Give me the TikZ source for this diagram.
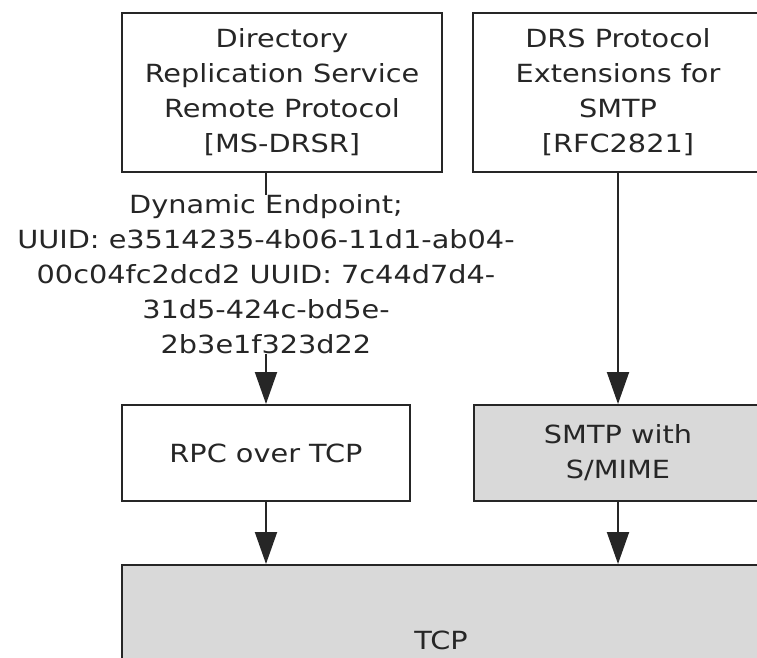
\documentclass[tikz,border=0pt]{standalone}
\usepackage{fontspec}
\setmainfont{DejaVu Sans}[FakeStretch=1.15]
\usetikzlibrary{arrows.meta}
\definecolor{txt}{HTML}{262626}
\definecolor{edge}{HTML}{262626}
\definecolor{shade}{HTML}{D9D9D9}
\tikzset{
  box/.style={draw=edge, line width=2pt, rectangle, align=center, inner sep=0pt,
    text=txt, font=\fontsize{25}{35}\selectfont},
  conn/.style={draw=edge, line width=2pt, -{Triangle[length=32pt,width=22pt]}},
  lbl/.style={fill=white, inner sep=0pt, align=center, text=txt,
    font=\fontsize{25}{35}\selectfont}
}
\begin{document}
\begin{tikzpicture}[x=1pt,y=-1pt]
\useasboundingbox (0,0) rectangle (757,658);
\clip (0,0) rectangle (757,658);
\node[box, minimum width=320pt, minimum height=159pt] (drsr) at (282,92.5)
  {Directory\\Replication Service\\Remote Protocol\\{}[MS-DRSR]};
\node[box, minimum width=290pt, minimum height=159pt] (smtpext) at (618,92.5)
  {DRS Protocol\\Extensions for\\SMTP\\{}[RFC2821]};
\node[box, minimum width=288pt, minimum height=96pt] (rpc) at (266,453)
  {RPC over TCP};
\node[box, fill=shade, minimum width=288pt, minimum height=96pt] (smime) at (618,453)
  {SMTP with\\S/MIME};
\node[box, fill=shade, minimum width=638pt, minimum height=150pt] (tcp) at (441,640)
  {TCP};
\draw[conn] (rpc.north |- drsr.south) -- node[lbl, pos=0.44]
  {Dynamic Endpoint;\\UUID: e3514235-4b06-11d1-ab04-\\00c04fc2dcd2 UUID: 7c44d7d4-\\31d5-424c-bd5e-\\2b3e1f323d22} (rpc.north);
\draw[conn] (smtpext.south -| smime.north) -- (smime.north);
\draw[conn] (rpc.south) -- (rpc.south |- tcp.north);
\draw[conn] (smime.south) -- (smime.south |- tcp.north);
\end{tikzpicture}
\end{document}
